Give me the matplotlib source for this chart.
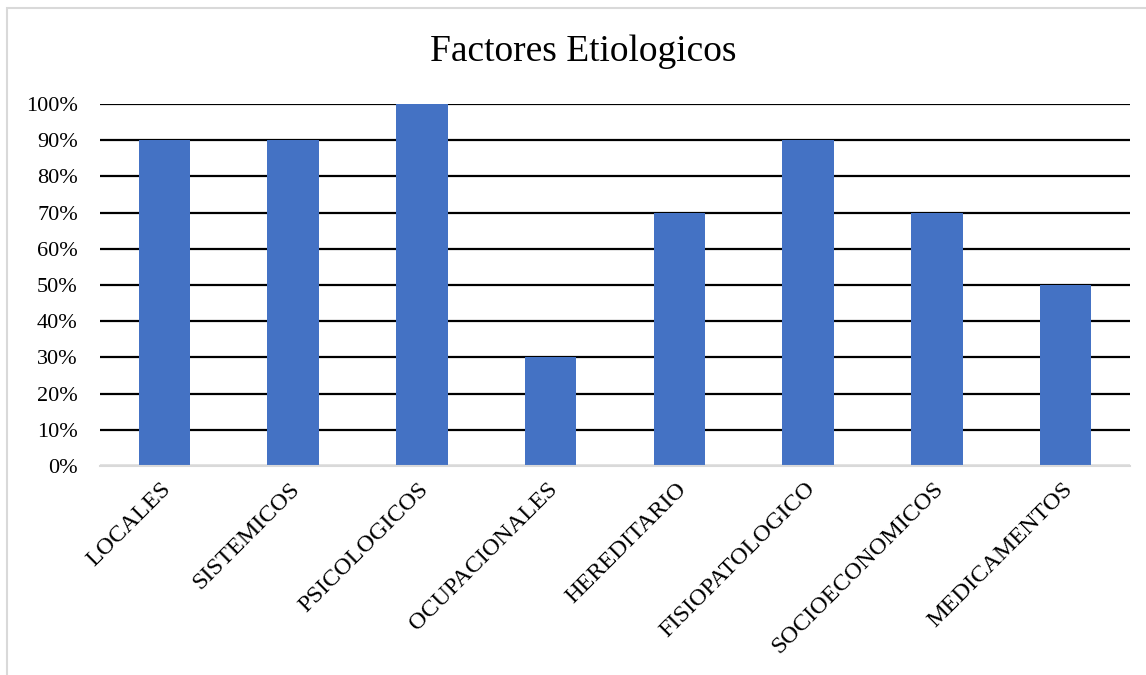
import matplotlib
matplotlib.use("Agg")
import matplotlib.pyplot as plt
from matplotlib.ticker import MultipleLocator, FuncFormatter
from matplotlib.patches import Rectangle
from matplotlib.transforms import ScaledTranslation

categories = ["LOCALES", "SISTEMICOS", "PSICOLOGICOS", "OCUPACIONALES",
              "HEREDITARIO", "FISIOPATOLOGICO", "SOCIOECONOMICOS", "MEDICAMENTOS"]
values = [0.90, 0.90, 1.00, 0.30, 0.70, 0.90, 0.70, 0.50]
title = "Factores Etiologicos"

plt.rcParams['font.family'] = ['Liberation Serif', 'DejaVu Serif']

W, H = 1146, 675
fig = plt.figure(figsize=(W / 100, H / 100), dpi=100)
fig.patch.set_facecolor("white")

# chart frame (light gray)
fig.add_artist(Rectangle((7 / W, -0.1), 1.2, (H - 8) / H + 0.1, transform=fig.transFigure,
                         fill=False, edgecolor="#d9d9d9", linewidth=1.5))

left, right, top, bottom = 100, 1130, 104, 466
ax = fig.add_axes([left / W, 1 - bottom / H, (right - left) / W, (bottom - top) / H])

x = list(range(len(categories)))
ax.bar(x, values, width=0.4, color="#4472C4", zorder=3)
ax.set_xlim(-0.5, len(categories) - 0.5)
ax.set_ylim(0, 1.0)
ax.yaxis.set_major_locator(MultipleLocator(0.1))
ax.yaxis.set_major_formatter(FuncFormatter(lambda v, p: f"{round(v * 100)}%"))
ax.grid(axis="y", color="black", linewidth=1.6, zorder=1)
ax.set_axisbelow(True)
for s in ["top", "right", "left"]:
    ax.spines[s].set_visible(False)
ax.spines["bottom"].set_color("#d9d9d9")
ax.spines["bottom"].set_linewidth(1.5)
ax.spines["bottom"].set_zorder(4)
ax.tick_params(axis="both", length=0, labelsize=16, colors="black")
ax.tick_params(axis="y", pad=16)
ax.set_xticks(x)
ax.set_xticklabels(categories, rotation=45, ha="right", rotation_mode="anchor", fontsize=17.5)
ax.tick_params(axis="x", pad=9)
offset = ScaledTranslation(-4 / 100, 0, fig.dpi_scale_trans)
for lbl in ax.get_xticklabels():
    lbl.set_transform(lbl.get_transform() + offset)

fig.text(583 / W, 1 - 52 / H, title, ha="center", va="center", fontsize=27)

fig.savefig("out.png", dpi=100, facecolor="white")
